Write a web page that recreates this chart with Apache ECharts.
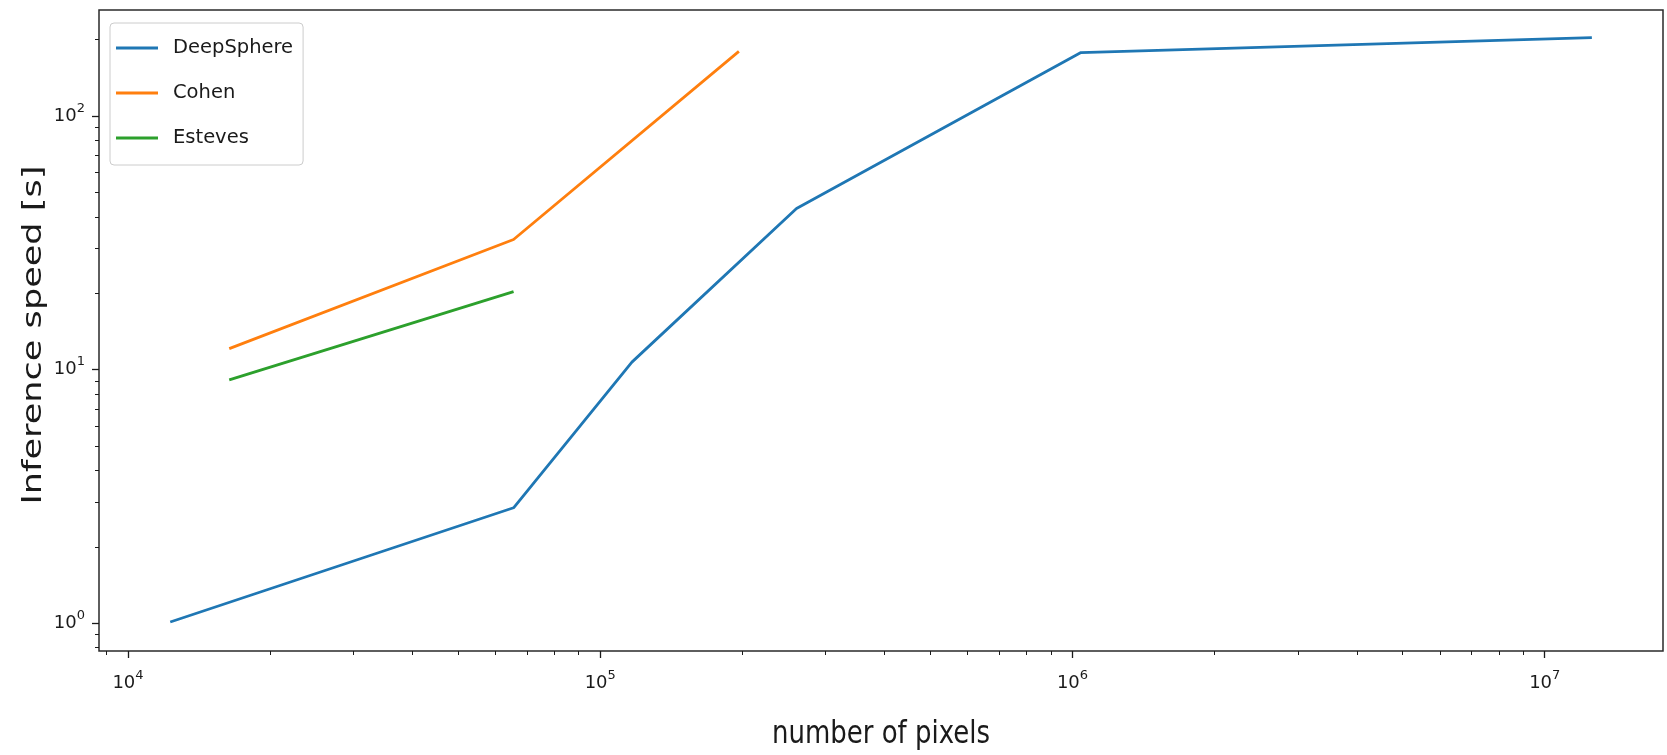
<!DOCTYPE html>
<html>
<head>
<meta charset="utf-8">
<title>Inference speed vs number of pixels</title>
<script src="https://cdn.jsdelivr.net/npm/echarts@6/dist/echarts.min.js"></script>
<style>
  html, body { margin: 0; padding: 0; background: #fff; }
  #chart { width: 1667px; height: 755px; }
</style>
</head>
<body>
<div id="chart"></div>
<script>
// Inference time of spherical CNNs as a function of the sampling resolution
const deepSpherePixels = [12288, 65536, 116700, 260400, 1042000, 12582912];
const deepSphereSeconds = [1.01, 2.85, 10.7, 43.2, 178, 204];
const cohenPixels = [16384, 65536, 196608];
const cohenSeconds = [12.1, 32.6, 180];
const estevesPixels = [16384, 65536];
const estevesSeconds = [9.1, 20.3];

// Axis extents and tick positions (log-log)
const xRange = [8682, 1.78e7];
const yRange = [0.776, 262];
const xMajorTicks = [1e4, 1e5, 1e6, 1e7];
const xMinorTicks = [9e3, 2e4, 3e4, 4e4, 5e4, 6e4, 7e4, 8e4, 9e4,
  2e5, 3e5, 4e5, 5e5, 6e5, 7e5, 8e5, 9e5,
  2e6, 3e6, 4e6, 5e6, 6e6, 7e6, 8e6, 9e6];
const yMajorTicks = [1, 10, 100];
const yMinorTicks = [0.8, 0.9, 2, 3, 4, 5, 6, 7, 8, 9,
  20, 30, 40, 50, 60, 70, 80, 90, 200];

const zip = (xs, ys) => xs.map((x, i) => [x, ys[i]]);

const FONT = "'DejaVu Sans', sans-serif";
const INK = '#1a1a1a';

const powLabel = v => '{b|10}{s|' + Math.round(Math.log10(v)) + '}';
const powRich = {
  b: { fontFamily: FONT, fontSize: 18, color: INK, lineHeight: 28 },
  s: { fontFamily: FONT, fontSize: 13, color: INK, lineHeight: 15, verticalAlign: 'top' }
};

const majorAxis = (range, ticks, margin) => ({
  type: 'log', logBase: 10, min: range[0], max: range[1],
  axisLine: { show: false },
  splitLine: { show: false },
  minorTick: { show: false },
  axisTick: { show: true, inside: false, length: 7, customValues: ticks,
    lineStyle: { color: INK, width: 1.3 } },
  axisLabel: { show: true, customValues: ticks, margin: margin,
    formatter: powLabel, rich: powRich,
    showMinLabel: true, showMaxLabel: true }
});

const minorAxis = (range, ticks, position) => ({
  type: 'log', logBase: 10, min: range[0], max: range[1],
  position: position,
  axisLine: { show: false },
  splitLine: { show: false },
  axisLabel: { show: false },
  axisTick: { show: true, inside: false, length: 4, customValues: ticks,
    lineStyle: { color: INK, width: 1 } }
});

const lineSeries = (name, color, data) => ({
  name: name, type: 'line', data: data,
  xAxisIndex: 0, yAxisIndex: 0,
  showSymbol: false, symbol: 'none',
  lineStyle: { color: color, width: 2.8 },
  itemStyle: { color: color },
  emphasis: { disabled: true }
});

const chart = echarts.init(document.getElementById('chart'), null, { renderer: 'canvas' });

chart.setOption({
  animation: false,
  backgroundColor: '#ffffff',
  grid: {
    left: 99, top: 10, right: 4, bottom: 104,
    show: true, borderColor: '#2a2a2a', borderWidth: 1.5, backgroundColor: 'transparent'
  },
  xAxis: [
    Object.assign(majorAxis(xRange, xMajorTicks, 18), { position: 'bottom' }),
    minorAxis(xRange, xMinorTicks, 'bottom')
  ],
  yAxis: [
    Object.assign(majorAxis(yRange, yMajorTicks, 14), { position: 'left' }),
    minorAxis(yRange, yMinorTicks, 'left')
  ],
  legend: {
    orient: 'vertical',
    left: 110, top: 23,
    padding: [13, 10, 15, 6],
    itemWidth: 42, itemHeight: 3, itemGap: 21,
    icon: 'rect',
    backgroundColor: 'rgba(255,255,255,0.8)',
    borderColor: '#cccccc', borderWidth: 1, borderRadius: 4,
    textStyle: { fontFamily: FONT, fontSize: 19.5, color: INK, lineHeight: 24, padding: [0, 0, 0, 10] },
    data: ['DeepSphere', 'Cohen', 'Esteves']
  },
  graphic: [
    {
      type: 'text', x: 881, y: 735, scaleY: 1.2,
      style: { text: 'number of pixels', fontFamily: FONT, fontSize: 26, fill: INK,
        align: 'center', verticalAlign: 'middle' }
    },
    {
      type: 'text', x: 34, y: 335, rotation: Math.PI / 2, scaleX: 1.3,
      style: { text: 'Inference speed [s]', fontFamily: FONT, fontSize: 27, fill: INK,
        align: 'center', verticalAlign: 'middle' }
    }
  ],
  series: [
    lineSeries('DeepSphere', '#1f77b4', zip(deepSpherePixels, deepSphereSeconds)),
    lineSeries('Cohen', '#ff7f0e', zip(cohenPixels, cohenSeconds)),
    lineSeries('Esteves', '#2ca02c', zip(estevesPixels, estevesSeconds))
  ]
});
</script>
</body>
</html>
